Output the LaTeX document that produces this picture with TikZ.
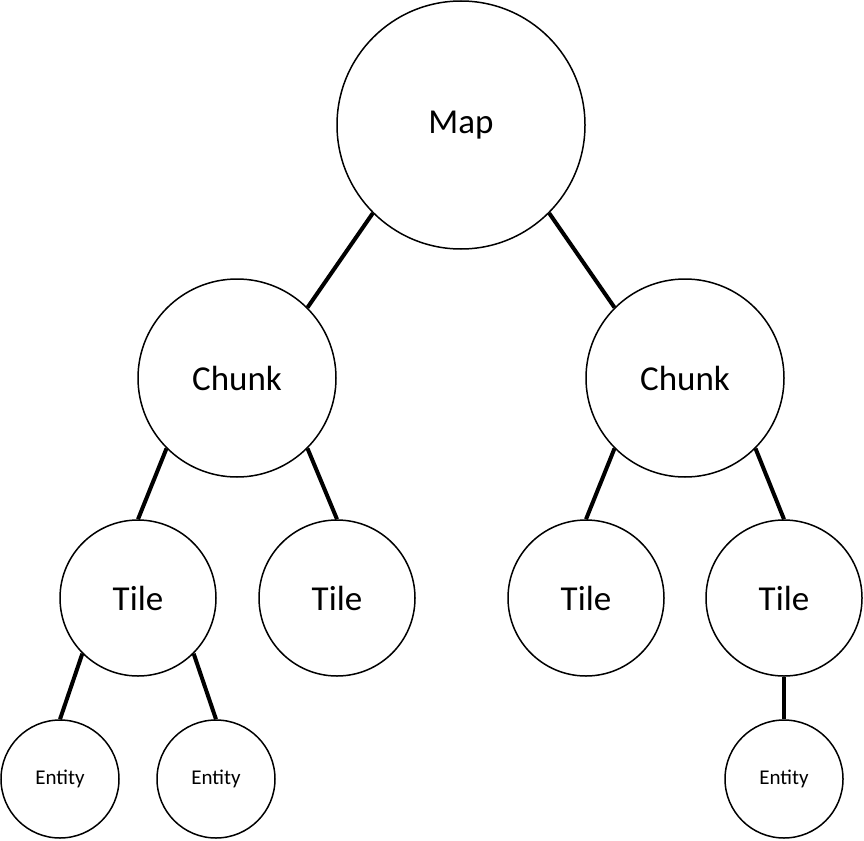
\documentclass[tikz,border=0pt]{standalone}
\usepackage{fontspec}
\setmainfont{Carlito}
\begin{document}
\begin{tikzpicture}[x=1pt,y=-1pt,
  nd/.style={circle,draw=black,line width=1.5pt,fill=white,inner sep=0pt},
  big/.style={font=\fontsize{35}{40}\selectfont},
  small/.style={font=\fontsize{21}{24}\selectfont},
  conn/.style={line width=4pt,draw=black}]
\useasboundingbox (0,0) rectangle (864,840);
\node[nd,big,minimum size=248pt] (map) at (461,125) {\raisebox{-2pt}{Map}};
\node[nd,big,minimum size=198pt] (cl) at (237,378) {Chunk};
\node[nd,big,minimum size=198pt] (cr) at (685,378) {Chunk};
\node[nd,big,minimum size=156pt] (t1) at (138,598) {Tile};
\node[nd,big,minimum size=156pt] (t2) at (337,598) {Tile};
\node[nd,big,minimum size=156pt] (t3) at (586,598) {Tile};
\node[nd,big,minimum size=156pt] (t4) at (784,598) {Tile};
\node[nd,small,minimum size=118pt] (e1) at (60,779) {Entity};
\node[nd,small,minimum size=118pt] (e2) at (216,779) {Entity};
\node[nd,small,minimum size=118pt] (e3) at (784,779) {Entity};
\draw[conn] (map.225) -- (cl.45);
\draw[conn] (map.315) -- (cr.135);
\draw[conn] (cl.225) -- (t1.north);
\draw[conn] (cl.315) -- (t2.north);
\draw[conn] (cr.225) -- (t3.north);
\draw[conn] (cr.315) -- (t4.north);
\draw[conn] (t1.225) -- (e1.north);
\draw[conn] (t1.315) -- (e2.north);
\draw[conn] (t4.south) -- (e3.north);
\end{tikzpicture}
\end{document}
